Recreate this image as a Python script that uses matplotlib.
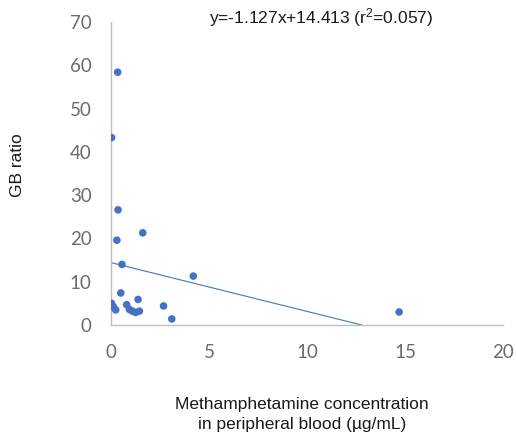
import matplotlib
matplotlib.use("Agg")
import matplotlib.pyplot as plt
import numpy as np

meth_conc = [0.34, 0.03, 0.36, 0.3, 1.62, 0.56, 4.2, 0.5, 1.38, 2.68, 3.1, 14.7,
             0.03, 0.12, 0.24, 0.8, 0.94, 1.09, 1.26, 1.45]
gb_ratio = [58.4, 43.3, 26.6, 19.6, 21.3, 14.0, 11.3, 7.4, 5.9, 4.4, 1.4, 3.0,
            5.0, 4.2, 3.5, 4.7, 3.6, 3.2, 2.9, 3.2]
slope = -1.127
intercept = 14.413
r2 = 0.057
x_ticks = [0, 5, 10, 15, 20]
y_ticks = [0, 10, 20, 30, 40, 50, 60, 70]

plt.rcParams["mathtext.fontset"] = "custom"
plt.rcParams["mathtext.rm"] = "Liberation Sans"
plt.rcParams["mathtext.it"] = "Liberation Sans"
plt.rcParams["mathtext.default"] = "regular"

blue = "#4472C4"
gray_txt = "#6b6b6b"
spine_c = "#BFBFBF"
txt_c = "#1a1a1a"

fig = plt.figure(figsize=(5.16, 4.32), dpi=100)
ax = fig.add_axes([111/516, 1-325/432, (503-111)/516, (325-22)/432])

ax.scatter(meth_conc, gb_ratio, s=30, color=blue, edgecolors="none", zorder=3)
x_end = -intercept / slope
xl = np.array([0, x_end])
ax.plot(xl, slope * xl + intercept, color=blue, lw=0.8, zorder=2)

ax.set_xlim(0, 20)
ax.set_ylim(0, 70)
ax.set_xticks(x_ticks)
ax.set_yticks(y_ticks)
ax.tick_params(length=0, labelsize=13.5, labelcolor=gray_txt)
ax.tick_params(axis="y", pad=14)
ax.tick_params(axis="x", pad=14)
for lab in ax.get_xticklabels() + ax.get_yticklabels():
    lab.set_fontfamily("Lato")
for s in ["top", "right"]:
    ax.spines[s].set_visible(False)
for s in ["left", "bottom"]:
    ax.spines[s].set_color(spine_c)
    ax.spines[s].set_linewidth(1.0)

fs = 12.5
fig.text(321/516, 1-18/432, f"y={slope}x+{intercept} (r$^{{2}}$={r2})",
         ha="center", va="center", fontsize=fs, family="Liberation Sans", color=txt_c)
fig.text(18/516, 1-165/432, "GB ratio", rotation=90, ha="center", va="center",
         fontsize=fs, family="Liberation Sans", color=txt_c)
fig.text(302/516, 1-404/432, "Methamphetamine concentration", ha="center", va="center",
         fontsize=fs, family="Liberation Sans", color=txt_c)
fig.text(302/516, 1-424/432, "in peripheral blood (µg/mL)", ha="center", va="center",
         fontsize=fs, family="Liberation Sans", color=txt_c)

fig.savefig("out.png", dpi=100)
